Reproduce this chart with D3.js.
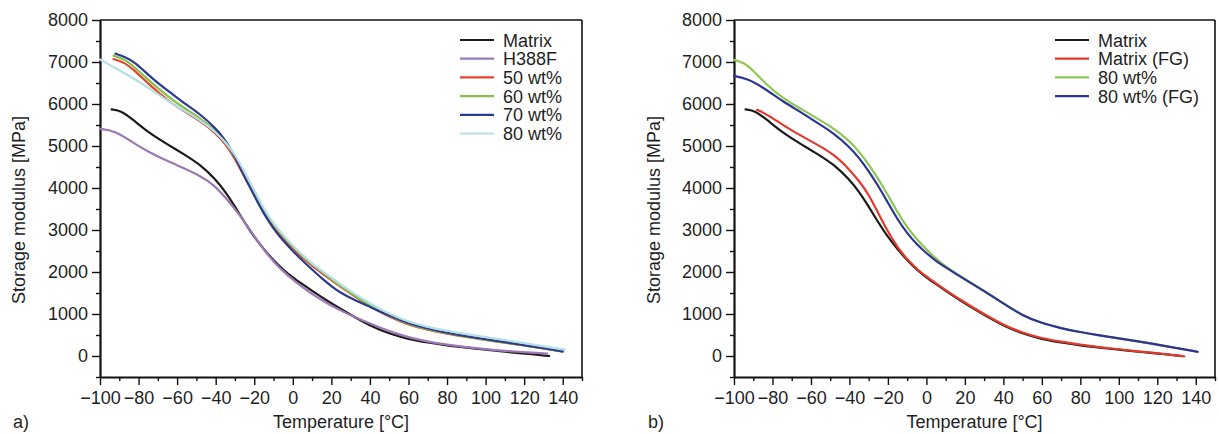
<!DOCTYPE html>
<html>
<head>
<meta charset="utf-8">
<script src="https://cdn.jsdelivr.net/npm/d3@7"></script>
<style>
  body { margin: 0; background: #fff; }
  svg { display: block; font-family: "Liberation Sans", Arial, Helvetica, sans-serif; }
  text { fill: #1f1f1f; }
</style>
</head>
<body>
<script>
// values: [temperature °C, storage modulus MPa]
const matrix = [[-94, 5870], [-89, 5840], [-83, 5630], [-74, 5290], [-65, 5040], [-57, 4820], [-48, 4560],
  [-40, 4200], [-35, 3910], [-30, 3560], [-25, 3180], [-20, 2830], [-15, 2540], [-10, 2280], [-5, 2050],
  [0, 1870], [5, 1710], [10, 1550], [20, 1250], [30, 980], [40, 720], [50, 530], [60, 400], [70, 320],
  [80, 250], [90, 200], [100, 150], [110, 100], [120, 60], [133, 0]];

const h388f = [[-100, 5410], [-92, 5360], [-83, 5080], [-74, 4840], [-65, 4640], [-57, 4480], [-48, 4290],
  [-41, 4080], [-34, 3730], [-27, 3330], [-20, 2850], [-13, 2400], [-6, 2050], [2, 1740], [10, 1470],
  [19, 1220], [28, 1010], [37, 830], [46, 660], [54, 530], [62, 420], [70, 340], [80, 270], [90, 210],
  [100, 160], [110, 120], [120, 90], [132, 55]];

const wt50 = [[-93, 7070], [-88, 7000], [-83, 6840], [-74, 6440], [-65, 6090], [-57, 5840], [-48, 5600],
  [-40, 5300], [-35, 5060], [-30, 4700], [-25, 4250], [-20, 3850], [-15, 3420], [-10, 3080], [-5, 2800],
  [0, 2560], [5, 2340], [10, 2150], [20, 1800], [30, 1480], [40, 1180], [50, 930], [60, 740], [70, 620],
  [80, 530], [90, 450], [100, 380], [110, 320], [120, 250], [130, 180], [140, 110]];

const wt60 = [[-93, 7150], [-88, 7080], [-83, 6920], [-74, 6530], [-65, 6190], [-57, 5920], [-48, 5670],
  [-40, 5350], [-35, 5110], [-30, 4750], [-25, 4320], [-20, 3900], [-15, 3470], [-10, 3130], [-5, 2850],
  [0, 2600], [5, 2380], [10, 2180], [20, 1830], [30, 1500], [40, 1200], [50, 950], [60, 760], [70, 630],
  [80, 540], [90, 460], [100, 390], [110, 320], [120, 250], [130, 180], [140, 100]];

const wt70 = [[-92, 7200], [-87, 7120], [-82, 7000], [-74, 6650], [-65, 6320], [-57, 6040], [-48, 5760],
  [-40, 5420], [-35, 5150], [-30, 4750], [-25, 4270], [-20, 3820], [-15, 3380], [-10, 3030], [-5, 2740],
  [0, 2500], [5, 2270], [10, 2060], [15, 1850], [20, 1660], [25, 1500], [30, 1380], [40, 1170], [50, 960],
  [60, 780], [70, 650], [80, 550], [90, 470], [100, 400], [110, 330], [120, 260], [130, 190], [140, 110]];

const wt80 = [[-100, 7060], [-91, 6830], [-83, 6620], [-74, 6360], [-65, 6080], [-57, 5860], [-48, 5620],
  [-40, 5330], [-35, 5100], [-30, 4800], [-25, 4380], [-20, 3950], [-15, 3500], [-10, 3150], [-5, 2880],
  [0, 2630], [5, 2400], [10, 2200], [20, 1860], [30, 1540], [40, 1250], [50, 1000], [60, 810], [70, 690],
  [80, 600], [90, 520], [100, 450], [110, 380], [120, 310], [130, 230], [141, 150]];

const matrixFG = [[-88, 5860], [-83, 5760], [-74, 5480], [-65, 5240], [-57, 5040], [-48, 4800], [-40, 4440],
  [-35, 4170], [-30, 3850], [-25, 3400], [-20, 2960], [-15, 2580], [-10, 2300], [-5, 2070], [0, 1890],
  [5, 1730], [10, 1570], [20, 1270], [30, 1000], [40, 740], [50, 550], [60, 420], [70, 340], [80, 270],
  [90, 210], [100, 160], [110, 110], [120, 70], [134, -10]];

const wt80right = [[-100, 7050], [-95, 6990], [-90, 6800], [-83, 6450], [-74, 6120], [-65, 5880], [-57, 5660],
  [-48, 5420], [-40, 5120], [-35, 4870], [-30, 4560], [-25, 4220], [-20, 3830], [-15, 3420], [-10, 3060],
  [-5, 2780], [0, 2540], [5, 2310], [10, 2130], [20, 1830], [30, 1550], [40, 1250], [50, 960], [60, 780],
  [70, 660], [80, 570], [90, 490], [100, 420], [110, 350], [120, 270], [130, 190], [140, 110]];

const wt80FG = [[-100, 6670], [-93, 6600], [-86, 6430], [-74, 6040], [-65, 5800], [-57, 5560], [-48, 5300],
  [-40, 4980], [-35, 4720], [-30, 4400], [-25, 4050], [-20, 3650], [-15, 3250], [-10, 2920], [-5, 2660],
  [0, 2450], [5, 2260], [10, 2110], [20, 1820], [30, 1550], [40, 1250], [50, 960], [60, 780], [70, 660],
  [80, 570], [90, 490], [100, 420], [110, 350], [120, 270], [130, 190], [141, 100]];

const leftNames = ["Matrix", "H388F", "50 wt%", "60 wt%", "70 wt%", "80 wt%"];
const leftSeries = [matrix, h388f, wt50, wt60, wt70, wt80];
const leftColors = ["#1a1a1a", "#9d78b3", "#e2452c", "#86c04b", "#2c3a8f", "#b4dfe4"];

const rightNames = ["Matrix", "Matrix (FG)", "80 wt%", "80 wt% (FG)"];
const rightSeries = [matrix, matrixFG, wt80right, wt80FG];
const rightColors = ["#1a1a1a", "#e03a2a", "#8cc653", "#2e3492"];

const xTickValues = [-100, -80, -60, -40, -20, 0, 20, 40, 60, 80, 100, 120, 140];
const yTickValues = [0, 1000, 2000, 3000, 4000, 5000, 6000, 7000, 8000];

const w = 1219;
const h = 434;
const plotTop = 20, plotBottom = 377;

const svg = d3.select("body")
  .append("svg")
  .attr("width", w)
  .attr("height", h);

function panel(left, right, letter, names, series, colors, legendX, yTitleX) {
  const xScale = d3.scaleLinear().domain([-100, 150]).range([left, right]);
  const yScale = d3.scaleLinear().domain([-500, 8000]).range([plotBottom, plotTop]);

  const g = svg.append("g");

  // frame top + right
  g.append("line").attr("x1", left).attr("x2", right).attr("y1", plotTop).attr("y2", plotTop)
    .attr("stroke", "#111").attr("stroke-width", 1.6);
  g.append("line").attr("x1", right).attr("x2", right).attr("y1", plotTop).attr("y2", plotBottom)
    .attr("stroke", "#111").attr("stroke-width", 1.6);

  // minor ticks
  g.append("g")
    .attr("transform", "translate(0," + plotBottom + ")")
    .call(d3.axisBottom(xScale).tickValues(d3.range(-90, 151, 20)).tickSize(4).tickFormat(""))
    .call(a => a.select(".domain").remove());
  g.append("g")
    .attr("transform", "translate(" + left + ",0)")
    .call(d3.axisLeft(yScale).tickValues(d3.range(-500, 8000, 1000)).tickSize(4).tickFormat(""))
    .call(a => a.select(".domain").remove());

  const xAxis = g.append("g")
    .attr("transform", "translate(0," + plotBottom + ")")
    .call(d3.axisBottom(xScale).tickValues(xTickValues).tickSize(8).tickSizeOuter(0)
      .tickPadding(6).tickFormat(d3.format("d")));
  const yAxis = g.append("g")
    .attr("transform", "translate(" + left + ",0)")
    .call(d3.axisLeft(yScale).tickValues(yTickValues).tickSize(8).tickSizeOuter(0)
      .tickPadding(4).tickFormat(d3.format("d")));

  [xAxis, yAxis].forEach(a => {
    a.select(".domain").attr("stroke", "#111").attr("stroke-width", 2.2);
    a.selectAll(".tick text").attr("font-size", 18).attr("fill", "#1f1f1f");
  });
  g.selectAll(".tick line").attr("stroke", "#111").attr("stroke-width", 1.4);

  const line = d3.line()
    .x(d => xScale(d[0]))
    .y(d => yScale(d[1]))
    .curve(d3.curveBasis);

  g.selectAll("path.curve")
    .data(series)
    .enter()
    .append("path")
    .attr("class", "curve")
    .attr("d", d => line(d))
    .attr("fill", "none")
    .attr("stroke", (d, i) => colors[i])
    .attr("stroke-width", 2.2)
    .attr("stroke-linejoin", "round")
    .attr("stroke-linecap", "round");

  // legend
  const leg = g.selectAll("g.leg")
    .data(names)
    .enter()
    .append("g")
    .attr("class", "leg")
    .attr("transform", (d, i) => "translate(" + legendX + "," + (40 + i * 18.7) + ")");
  leg.append("line")
    .attr("x1", 0).attr("x2", 34)
    .attr("stroke", (d, i) => colors[i])
    .attr("stroke-width", 2.2);
  leg.append("text")
    .attr("x", 43)
    .attr("y", 6.5)
    .attr("font-size", 18)
    .text(d => d);

  // axis titles
  g.append("text")
    .attr("x", (left + right) / 2)
    .attr("y", 428)
    .attr("text-anchor", "middle")
    .attr("font-size", 18)
    .text("Temperature [°C]");
  g.append("text")
    .attr("transform", "translate(" + yTitleX + ",210) rotate(-90)")
    .attr("text-anchor", "middle")
    .attr("font-size", 18)
    .text("Storage modulus [MPa]");
  g.append("text")
    .attr("x", yTitleX - 12)
    .attr("y", 428)
    .attr("font-size", 18)
    .text(letter);
}

panel(100, 582, "a)", leftNames, leftSeries, leftColors, 460, 25);
panel(734, 1215, "b)", rightNames, rightSeries, rightColors, 1055, 660);
</script>
</body>
</html>
